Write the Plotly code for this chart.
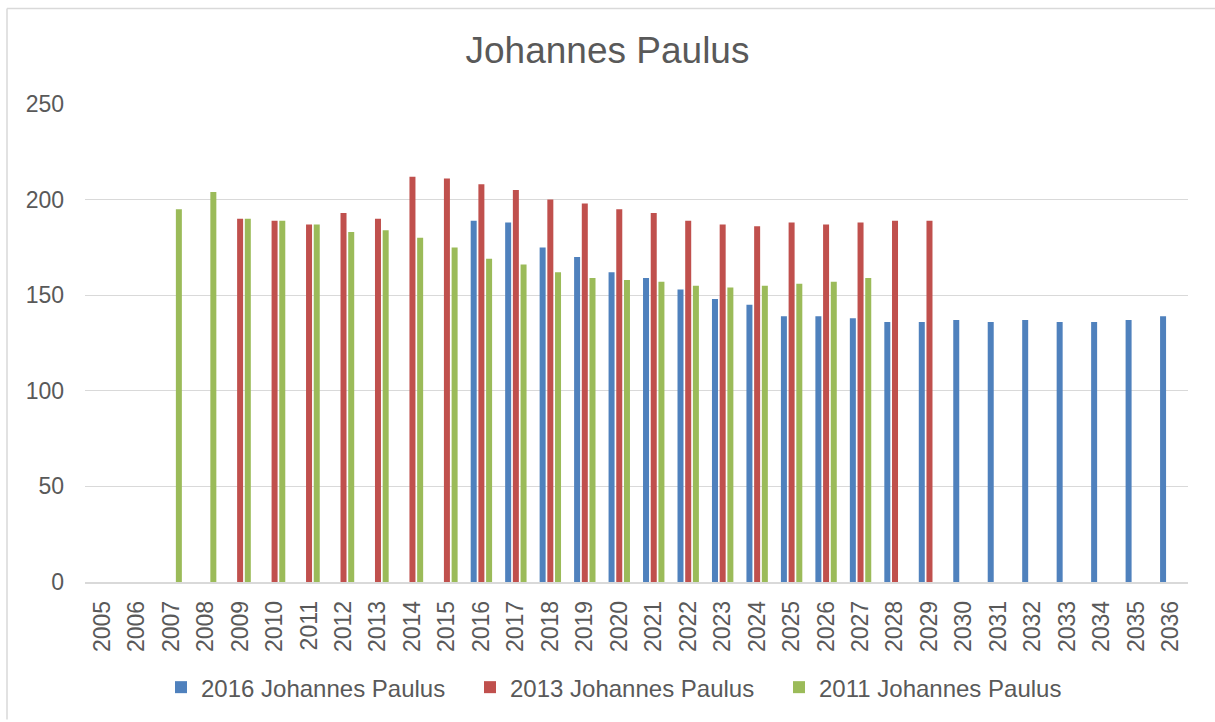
import plotly.graph_objects as go

years = [str(y) for y in range(2005, 2037)]

# 2016 Johannes Paulus (blue) - starts 2016
s2016 = [None]*11 + [189, 188, 175, 170, 162, 159, 153, 148, 145, 139, 139, 138, 136, 136,
                     137, 136, 137, 136, 136, 137, 139]
# 2013 Johannes Paulus (red) - 2009..2029
s2013 = [None]*4 + [190, 189, 187, 193, 190, 212, 211, 208, 205, 200, 198, 195, 193, 189,
                    187, 186, 188, 187, 188, 189, 189] + [None]*7
# 2011 Johannes Paulus (green) - 2007..2027
s2011 = [None]*2 + [195, 204, 190, 189, 187, 183, 184, 180, 175, 169, 166, 162, 159, 158,
                    157, 155, 154, 155, 156, 157, 159] + [None]*9

names = ["2016 Johannes Paulus", "2013 Johannes Paulus", "2011 Johannes Paulus"]
colors = ["#4F81BD", "#C0504D", "#9BBB59"]
series = [s2016, s2013, s2011]

fig = go.Figure()
for n, c, s in zip(names, colors, series):
    fig.add_trace(go.Bar(x=years, y=s, name=n, marker=dict(color=c, line=dict(width=0))))

txt = "#595959"
grid = "#D9D9D9"
W, H = 1215, 722
L, R, T, B = 85, 27, 104, 138
pw, ph = W - L - R, H - T - B

def px_x(p):
    return (p - L) / pw

def px_y(p):
    return (H - B - p) / ph

fig.update_layout(
    width=W, height=H,
    margin=dict(l=L, r=R, t=T, b=B),
    paper_bgcolor="white", plot_bgcolor="white",
    font=dict(family="Liberation Sans, Arial, sans-serif", color=txt, size=23),
    title=dict(text="Johannes Paulus", x=0.5, xanchor="center", y=1 - 50/H, yanchor="middle",
               font=dict(size=37, color=txt)),
    barmode="group", bargap=0.33, bargroupgap=0.22,
    showlegend=True,
    legend=dict(orientation="h", x=0.5 - 12/pw, xanchor="center", y=px_y(690), yanchor="middle",
                font=dict(size=24, color=txt), itemwidth=30,
                entrywidth=264, entrywidthmode="pixels", traceorder="normal"),
    shapes=[
        dict(type="line", xref="paper", yref="paper", x0=px_x(7), x1=px_x(1215), y0=px_y(8), y1=px_y(8),
             line=dict(color=grid, width=1.5)),
        dict(type="line", xref="paper", yref="paper", x0=px_x(7), x1=px_x(7), y0=px_y(8), y1=px_y(722),
             line=dict(color=grid, width=1.5)),
    ],
)
fig.update_xaxes(type="category", tickangle=-90, showgrid=False, showline=True,
                 linecolor=grid, linewidth=1.5, ticks="", ticklabelstandoff=8,
                 tickfont=dict(size=23, color=txt))
fig.update_yaxes(range=[0, 250], tickvals=[0, 50, 100, 150, 200, 250], showgrid=True,
                 gridcolor=grid, gridwidth=1.3, zeroline=False, showline=False, ticks="",
                 ticklabelstandoff=20, tickfont=dict(size=23, color=txt))

fig.write_html("out.html", config={"displayModeBar": False},
               post_script="document.body.style.margin='0';document.body.style.overflow='hidden';")
